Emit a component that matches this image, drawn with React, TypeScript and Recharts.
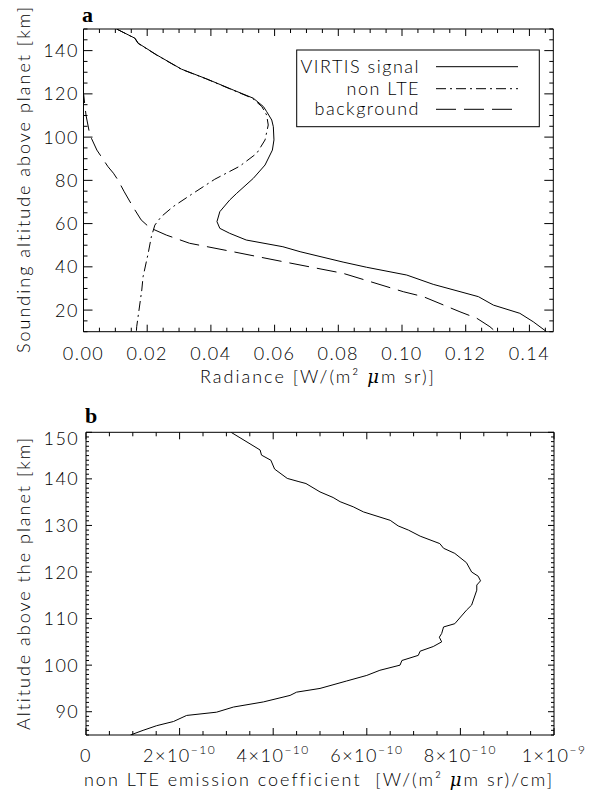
import { LineChart, Line, XAxis, YAxis } from 'recharts'

// panel a: sounding altitude [km] vs radiance [W/(m2 um sr)]
const signalAlt = [150, 145.7, 143.4, 138, 131.4, 126.9, 121.8, 118, 114.1, 111.8, 107.9, 104.8, 98.7, 94.0, 87.1, 80.9, 74.0, 70.9, 65.5, 60.9, 57.8, 55.5, 52.4, 49.3, 47.0, 42.2, 39.8, 36.2, 31.9, 26.2, 22.3, 18.5, 14.6, 10.0]
const signalRad = [0.0104, 0.0162, 0.0172, 0.023, 0.0308, 0.0387, 0.047, 0.0533, 0.0565, 0.0575, 0.0591, 0.0596, 0.0598, 0.0593, 0.057, 0.0533, 0.0481, 0.0459, 0.0428, 0.0419, 0.0428, 0.0459, 0.0511, 0.0626, 0.068, 0.0815, 0.0889, 0.1015, 0.1098, 0.1240, 0.1287, 0.137, 0.1412, 0.1454]

const nonLteAlt = [150, 145.7, 143.4, 138, 131.4, 126.9, 121.8, 118, 114.1, 110.2, 105.6, 98.7, 92.5, 86.5, 80.5, 73.5, 67.8, 63.2, 59.3, 53.9, 46.2, 35.4, 29.3, 12.3, 10]
const nonLteRad = [0.0104, 0.0161, 0.0171, 0.0229, 0.0307, 0.0386, 0.0468, 0.0530, 0.0560, 0.0575, 0.058, 0.057, 0.0544, 0.049, 0.0412, 0.0339, 0.0281, 0.0244, 0.0224, 0.0213, 0.0203, 0.0187, 0.0183, 0.0167, 0.0166]

const bgAlt = [125, 120.3, 110, 101, 94, 86.3, 83.3, 80.2, 74.7, 67.8, 61.7, 58.1, 54.7, 50.9, 47.0, 42.4, 37.0, 28.5, 26.2, 19.2, 16.2, 12.3, 10.5]
const bgRad = [0, 0, 0.0008, 0.002, 0.0042, 0.0077, 0.0094, 0.0108, 0.0128, 0.0155, 0.0181, 0.0208, 0.026, 0.0333, 0.0469, 0.0626, 0.0815, 0.1004, 0.1067, 0.1182, 0.1235, 0.1276, 0.129]

// panel b: altitude [km] vs non LTE emission coefficient, in units of 1e-10
const coefAlt = [150, 146.2, 145.1, 144, 142.1, 140.1, 139.4, 139.0, 137.2, 136.0, 135.1, 134.0, 132.9, 131.1, 129.9, 129.0, 127.7, 126.1, 125.1, 124.0, 122.0, 120.0, 119.1, 118.1, 117.2, 116.1, 112.9, 111.8, 108.9, 108.2, 106.8, 106.0, 105.0, 104.0, 103.0, 102.1, 101.0, 100.0, 98.9, 97.8, 96.6, 95.0, 94.2, 93.5, 92.1, 91.0, 89.9, 89.2, 87.9, 87.0, 86.0, 85.0]
const coefVal = [3.10, 3.72, 3.75, 3.95, 4.03, 4.30, 4.55, 4.70, 5.00, 5.28, 5.43, 5.71, 5.93, 6.50, 6.67, 6.89, 7.14, 7.56, 7.64, 7.88, 8.13, 8.24, 8.38, 8.43, 8.35, 8.35, 8.24, 8.13, 7.88, 7.64, 7.60, 7.55, 7.60, 7.42, 7.14, 7.10, 6.75, 6.71, 6.28, 6.00, 5.57, 5.00, 4.50, 4.36, 3.79, 3.15, 2.79, 2.15, 1.87, 1.51, 1.22, 0.95]

const seriesNames = ['VIRTIS signal', 'non LTE', 'background']

const radMajor = [0, 0.02, 0.04, 0.06, 0.08, 0.1, 0.12, 0.14]
const altMajorA = [20, 40, 60, 80, 100, 120, 140]
const coefMajor = [0, 2, 4, 6, 8, 10]
const altMajorB = [90, 100, 110, 120, 130, 140, 150]

const FONT = "Lato, 'DejaVu Sans', sans-serif"
const DASH = '20 8'
const DASHDOT = '10 4 2 4'

const zip = (alt: number[], v: number[]) => alt.map((a, i) => ({ alt: a, v: v[i] }))
const steps = (from: number, to: number, step: number) => {
    const out: number[] = []
    for (let t = from; t <= to + 1e-9; t += step) out.push(+t.toFixed(6))
    return out
}

const radTicks = steps(0, 0.145, 0.005)
const altTicksA = steps(10, 150, 5)
const coefTicks = steps(0, 10, 0.5)
const altTicksB = steps(85, 150, 1)

const textStyle = { fontFamily: FONT, fontWeight: 300, fontSize: 18, letterSpacing: 1.5, fill: '#000' }
const titleStyle = { ...textStyle, letterSpacing: 2 }
const letterStyle = { fontFamily: "'Liberation Serif', serif", fontSize: 22, fontWeight: 700 }
const mu = <tspan fontStyle="italic" fontFamily="'DejaVu Serif', serif">μ</tspan>

const fmtRad = (v: number) => v.toFixed(2)
const fmtAlt = (v: number) => String(v)
const fmtCoef = (v: number) => {
    if (v === 0) return <tspan>0</tspan>
    const [m, e] = v === 10 ? ['1', '−9'] : [String(v), '−10']
    return (
        <>
            <tspan>{m}×10</tspan>
            <tspan dy={-8} fontSize={12}>{e}</tspan>
        </>
    )
}

function tickFactory(side: 'bottom' | 'top' | 'left' | 'right', major: number[], majorLen: number, minorLen: number,
    fmt?: (v: number) => any, off = 0, topVal?: number) {
    return (props: any) => {
        const { x, y, payload } = props
        const v = payload.value
        const isMajor = major.some(m => Math.abs(m - v) < 1e-7)
        const len = isMajor ? majorLen : minorLen
        let line
        if (side === 'bottom') line = <line x1={x} y1={y} x2={x} y2={y - len} stroke="#000" />
        else if (side === 'top') line = <line x1={x} y1={y} x2={x} y2={y + len} stroke="#000" />
        else if (side === 'left') line = <line x1={x} y1={y} x2={x + len} y2={y} stroke="#000" />
        else line = <line x1={x} y1={y} x2={x - len} y2={y} stroke="#000" />
        let label = null
        if (isMajor && fmt) {
            if (side === 'bottom') label = <text x={x} y={y + off} textAnchor="middle" style={textStyle}>{fmt(v)}</text>
            else if (side === 'left') {
                const dy = topVal !== undefined && v === topVal ? 13 : 6.5
                label = <text x={x - off} y={y + dy} textAnchor="end" style={textStyle}>{fmt(v)}</text>
            }
        }
        return <g>{line}{label}</g>
    }
}

function PanelA() {
    return (
        <LineChart width={589} height={395} margin={{ top: 0, right: 0, bottom: 0, left: 0 }}>
            <XAxis dataKey="v" type="number" domain={[0, 0.1475]} ticks={radTicks} interval={0} allowDataOverflow
                height={63.3} tickSize={0} tickMargin={0} tickLine={false} axisLine={{ stroke: '#000' }}
                tick={tickFactory('bottom', radMajor, 7, 4, fmtRad, 28.3)} />
            <XAxis xAxisId="top" orientation="top" dataKey="v" type="number" domain={[0, 0.1475]} ticks={radTicks} interval={0}
                allowDataOverflow height={29} tickSize={0} tickMargin={0} tickLine={false} axisLine={{ stroke: '#000' }}
                tick={tickFactory('top', radMajor, 7, 4)} />
            <YAxis type="number" domain={[10, 150]} ticks={altTicksA} interval={0} allowDataOverflow width={83.5}
                tickSize={0} tickMargin={0} tickLine={false} axisLine={{ stroke: '#000' }}
                tick={tickFactory('left', altMajorA, 9, 4, fmtAlt, 4.5)} />
            <YAxis yAxisId="right" orientation="right" type="number" domain={[10, 150]} ticks={altTicksA} interval={0}
                allowDataOverflow width={35.7} tickSize={0} tickMargin={0} tickLine={false} axisLine={{ stroke: '#000' }}
                tick={tickFactory('right', altMajorA, 9, 4)} />
            <Line data={zip(signalAlt, signalRad)} dataKey="alt" name={seriesNames[0]} type="linear" stroke="#000"
                strokeWidth={1} dot={false} isAnimationActive={false} />
            <Line data={zip(nonLteAlt, nonLteRad)} dataKey="alt" name={seriesNames[1]} type="linear" stroke="#000"
                strokeWidth={1} strokeDasharray={DASHDOT} dot={false} isAnimationActive={false} />
            <Line data={zip(bgAlt, bgRad)} dataKey="alt" name={seriesNames[2]} type="linear" stroke="#000"
                strokeWidth={1} strokeDasharray={DASH} dot={false} isAnimationActive={false} />
        </LineChart>
    )
}

function PanelB() {
    return (
        <LineChart width={589} height={396} margin={{ top: 0, right: 0, bottom: 0, left: 0 }}>
            <XAxis dataKey="v" type="number" domain={[0, 10]} ticks={coefTicks} interval={0} allowDataOverflow
                height={56} tickSize={0} tickMargin={0} tickLine={false} axisLine={{ stroke: '#000' }}
                tick={tickFactory('bottom', coefMajor, 7, 4, fmtCoef, 27)} />
            <XAxis xAxisId="top" orientation="top" dataKey="v" type="number" domain={[0, 10]} ticks={coefTicks} interval={0}
                allowDataOverflow height={37.3} tickSize={0} tickMargin={0} tickLine={false} axisLine={{ stroke: '#000' }}
                tick={tickFactory('top', coefMajor, 7, 4)} />
            <YAxis type="number" domain={[85, 150]} ticks={altTicksB} interval={0} allowDataOverflow width={86}
                tickSize={0} tickMargin={0} tickLine={false} axisLine={{ stroke: '#000' }}
                tick={tickFactory('left', altMajorB, 6, 3, fmtAlt, 6.7, 150)} />
            <YAxis yAxisId="right" orientation="right" type="number" domain={[85, 150]} ticks={altTicksB} interval={0}
                allowDataOverflow width={35} tickSize={0} tickMargin={0} tickLine={false} axisLine={{ stroke: '#000' }}
                tick={tickFactory('right', altMajorB, 6, 3)} />
            <Line data={zip(coefAlt, coefVal)} dataKey="alt" type="linear" stroke="#000" strokeWidth={1}
                dot={false} isAnimationActive={false} />
        </LineChart>
    )
}

function Overlay() {
    const legendY = [66.7, 88.7, 109.3]
    const dashes = [undefined, DASHDOT, DASH]
    return (
        <svg width={589} height={791} style={{ position: 'absolute', left: 0, top: 0, pointerEvents: 'none' }}>
            <text x={82} y={22} style={letterStyle}>a</text>
            <text x={85} y={423} style={letterStyle}>b</text>

            <rect x={296.7} y={50} width={242.6} height={76.7} fill="#fff" stroke="#000" />
            {seriesNames.map((n, i) => (
                <g key={n}>
                    <text x={420} y={legendY[i] + 6} textAnchor="end" style={textStyle}>{n}</text>
                    <line x1={436} x2={518} y1={legendY[i]} y2={legendY[i]} stroke="#000" strokeDasharray={dashes[i]} />
                </g>
            ))}

            <text x={318} y={383} textAnchor="middle" style={titleStyle}>
                Radiance [W/(m² {mu}m sr)]
            </text>
            <text transform="translate(30,179) rotate(-90)" textAnchor="middle" style={titleStyle}>
                Sounding altitude above planet [km]
            </text>
            <text x={319} y={786} textAnchor="middle" style={titleStyle}>
                non LTE emission coefficient{'\u00a0\u00a0'}[W/(m² {mu}m sr)/cm]
            </text>
            <text transform="translate(30,583) rotate(-90)" textAnchor="middle" style={titleStyle}>
                Altitude above the planet [km]
            </text>
        </svg>
    )
}

export default function App() {
    return (
        <div style={{ position: 'absolute', left: 0, top: 0, width: 589, height: 791, background: '#fff' }}>
            <div style={{ position: 'absolute', left: 0, top: 0 }}><PanelA /></div>
            <div style={{ position: 'absolute', left: 0, top: 395 }}><PanelB /></div>
            <Overlay />
        </div>
    )
}
